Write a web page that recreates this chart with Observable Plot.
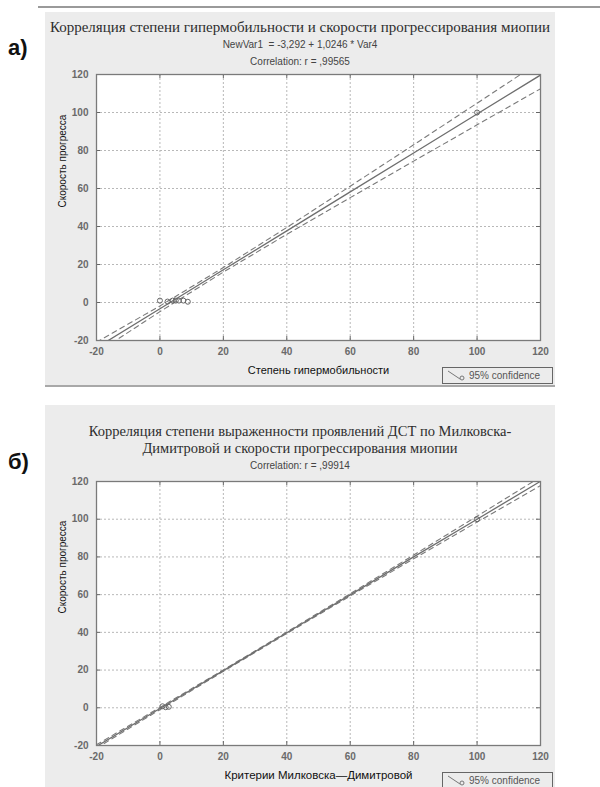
<!DOCTYPE html>
<html><head><meta charset="utf-8">
<script src="https://cdn.jsdelivr.net/npm/d3@7"></script>
<script src="https://cdn.jsdelivr.net/npm/@observablehq/plot@0.6"></script>
<style>
body{margin:0;width:600px;height:787px;position:relative;overflow:hidden;background:#fff;font-family:"Liberation Sans",Arial,sans-serif}
.topline{position:absolute;left:38px;top:6px;width:562px;height:2px;background:#9a9a9a}
.panel{position:absolute;left:45px;width:510px;background:#ececec}
.lab{position:absolute;left:8px;font:bold 22px "Liberation Sans",Arial,sans-serif;color:#111;line-height:24px}
.title{position:absolute;left:0;width:100%;text-align:center;font:15px "Liberation Serif","Times New Roman",serif;color:#2e2e2e;line-height:17px;white-space:nowrap}
.sub{position:absolute;left:0;width:100%;text-align:center;font:10px "Liberation Sans",Arial,sans-serif;color:#444;line-height:12px;white-space:pre}
.chart{position:absolute;left:0}
.legend{position:absolute;width:109px;height:15px;border:1px solid #666;font:10px "Liberation Sans",Arial,sans-serif;color:#555;line-height:15px;box-sizing:content-box}
.legend svg{position:absolute;left:4px;top:2px}
.legend span{position:absolute;left:26px;top:0}
</style></head><body>
<div class="topline"></div>
<div class="lab" style="top:36px">а)</div>
<div class="lab" style="top:450px">б)</div>
<div class="panel" id="pa" style="top:12px;height:373px;border-bottom:2px solid #a8a8a8">
  <div class="title" style="top:7px">Корреляция степени гипермобильности и скорости прогрессирования миопии</div>
  <div class="sub" style="top:27px">NewVar1  = -3,292 + 1,0246 * Var4</div>
  <div class="sub" style="top:44px">Correlation: r = ,99565</div>
  <div class="chart" id="ca" style="top:52px"></div>
  <div class="legend" style="left:397px;top:355px"><svg width="20" height="11"><line x1="1" y1="1" x2="13" y2="9" stroke="#777"/><circle cx="15" cy="8" r="2" fill="none" stroke="#777"/></svg><span>95% confidence</span></div>
</div>
<div class="panel" id="pb" style="top:405px;height:382px">
  <div class="title" style="top:18px;font-size:14.5px">Корреляция степени выраженности проявлений ДСТ по Милковска-</div>
  <div class="title" style="top:35px;font-size:14.5px">Димитровой и скорости прогрессирования миопии</div>
  <div class="sub" style="top:55px">Correlation: r = ,99914</div>
  <div class="chart" id="cb" style="top:66px"></div>
  <div class="legend" style="left:397px;top:367px"><svg width="20" height="11"><line x1="1" y1="1" x2="13" y2="9" stroke="#777"/><circle cx="15" cy="8" r="2" fill="none" stroke="#777"/></svg><span>95% confidence</span></div>
</div>
<script>
// ---- shared ticks ----
const axisTicks = [-20, 0, 20, 40, 60, 80, 100, 120];
const gridVals = [0, 20, 40, 60, 80, 100];

// ---- panel а: regression line & 95% band ----
const lineAX = [-20, 0, 20, 40, 60, 80, 100, 120];
const lineAY = [-23.8, -3.3, 17.2, 37.7, 58.2, 78.7, 99.2, 119.7];
const upperA = [-20.9, -1.8, 18.4, 39.5, 61.2, 83.0, 104.9, 126.9];
const lowerA = [-26.6, -4.8, 16.0, 35.9, 55.2, 74.4, 93.5, 112.5];
const ptsAX = [0, 2.4, 4, 5, 6, 7.4, 8.8, 100];
const ptsAY = [1, 0.5, 1, 1, 1, 1, 0.4, 100];
const xLabelA = "Степень гипермобильности";

// ---- panel б ----
const lineBX = [-20, 0, 20, 40, 60, 80, 100, 120];
const lineBY = [-20.5, -0.4, 19.7, 39.8, 59.9, 80.0, 100.0, 120.1];
const upperB = [-19.6, 0.2, 20.1, 40.2, 60.5, 81.0, 101.6, 122.4];
const lowerB = [-21.4, -1.0, 19.3, 39.4, 59.3, 79.0, 98.5, 117.8];
const ptsBX = [0.8, 1.8, 2.8, 100];
const ptsBY = [0.8, 0.3, 0.5, 100];
const xLabelB = "Критерии Милковска—Димитровой";
const yLabel = "Скорость прогресса";

function build(lx, ly, up, lo, px, py, xlabel, frameH, mb, xlabSize) {
  const W = 510, ml = 51, mr = 15, mt = 10;
  const fw = W - ml - mr;
  const line = lx.map((x, i) => ({x, y: ly[i], u: up[i], l: lo[i]}));
  const pts = px.map((x, i) => ({x, y: py[i]}));
  const fmt = d => String(d);
  return Plot.plot({
    width: W, height: mt + frameH + mb,
    marginLeft: ml, marginRight: mr, marginTop: mt, marginBottom: mb,
    x: {domain: [-20, 120]}, y: {domain: [-20, 120]},
    style: {fontFamily: "'Liberation Sans', Arial, sans-serif", fontSize: "10px", color: "#6a6a6a", background: "transparent", overflow: "visible"},
    marks: [
      Plot.frame({fill: "white", stroke: null}),
      Plot.gridX(gridVals, {stroke: "#b8b8b8", strokeOpacity: 1, strokeDasharray: "2,2"}),
      Plot.gridY(gridVals, {stroke: "#b8b8b8", strokeOpacity: 1, strokeDasharray: "2,2"}),
      Plot.tickX(gridVals, {x: d => d, insetTop: frameH - 4, stroke: "#666"}),
      Plot.tickX(gridVals, {x: d => d, insetBottom: frameH - 4, stroke: "#666"}),
      Plot.tickY(gridVals, {y: d => d, insetRight: fw - 4, stroke: "#666"}),
      Plot.tickY(gridVals, {y: d => d, insetLeft: fw - 4, stroke: "#666"}),
      Plot.line(line, {x: "x", y: "u", stroke: "#7a7a7a", strokeWidth: 1.1, strokeDasharray: "5,4", clip: true}),
      Plot.line(line, {x: "x", y: "l", stroke: "#7a7a7a", strokeWidth: 1.1, strokeDasharray: "5,4", clip: true}),
      Plot.line(line, {x: "x", y: "y", stroke: "#6e6e6e", strokeWidth: 1.3, clip: true}),
      Plot.dot(pts, {x: "x", y: "y", r: 2.5, stroke: "#666", fill: "none", strokeWidth: 1}),
      Plot.frame({stroke: "#7a7a7a", strokeWidth: 1.3}),
      Plot.axisX(axisTicks, {tickSize: 0, tickPadding: 7, label: null, fontWeight: "bold", tickFormat: fmt}),
      Plot.axisY(axisTicks, {tickSize: 0, tickPadding: 8, label: null, fontWeight: "bold", tickFormat: fmt}),
      Plot.text([xlabel], {frameAnchor: "bottom", dy: 33, fill: "#111", fontSize: xlabSize}),
      Plot.text([yLabel], {frameAnchor: "left", dx: -34, rotate: -90, fill: "#111", fontSize: 10})
    ]
  });
}
document.getElementById("ca").append(build(lineAX, lineAY, upperA, lowerA, ptsAX, ptsAY, xLabelA, 266, 47, 11));
document.getElementById("cb").append(build(lineBX, lineBY, upperB, lowerB, ptsBX, ptsBY, xLabelB, 264, 42, 11.5));
</script>
</body></html>
